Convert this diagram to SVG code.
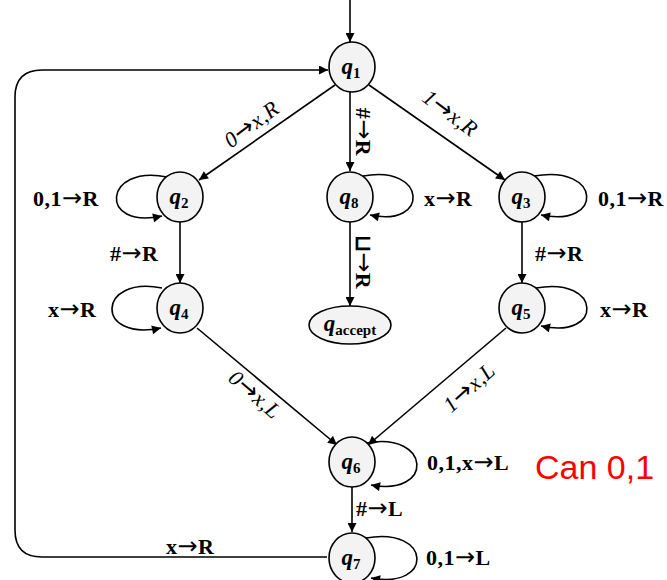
<svg xmlns="http://www.w3.org/2000/svg" width="667" height="580" viewBox="0 0 667 580">
<defs>
<marker id="ah" viewBox="0 0 10 10" refX="10" refY="5" markerWidth="10" markerHeight="9" markerUnits="userSpaceOnUse" orient="auto"><path d="M0,0 L10,5 L0,10 Z" fill="#000"/></marker>
</defs>
<style>
.st{fill:#f3f3f3;stroke:#000;stroke-width:1.6}
.nl{font-family:"Liberation Serif",serif;font-size:23px;font-weight:bold;font-style:italic;text-anchor:middle}
.sub{font-size:15px;font-style:normal}
.e{fill:none;stroke:#000;stroke-width:1.6;marker-end:url(#ah)}
.lb{font-family:"Liberation Serif",serif;font-size:22px;font-weight:bold;letter-spacing:0.5px}
.it{font-style:italic;font-weight:normal}
.ar{font-family:"DejaVu Sans",sans-serif;font-weight:normal;font-style:normal;font-size:24px}
.red{font-family:"Liberation Sans",Arial,sans-serif;font-size:34px;fill:#ff0000}
</style>
<rect width="667" height="580" fill="#fff"/>
<g id="connectors">
<path class="e" d="M350,0 V42"/>
<path class="e" d="M335,85 L199,180"/>
<path class="e" d="M350,92 V171"/>
<path class="e" d="M369,85 L505,180"/>
<path class="e" d="M180,222 V283"/>
<path class="e" d="M350,222 V306"/>
<path class="e" d="M522,222 V283"/>
<path class="e" d="M197,328 L337,445"/>
<path class="e" d="M506,328 L368,445"/>
<path class="e" d="M352,487 V532"/>
<path class="e" d="M327,557 H42 Q15,557 15,530 V97 Q15,70 42,70 H328"/>
<path class="e" d="M167,177 C103,164 98,230 162,216"/>
<path class="e" d="M162,288 C97,275 94,342 161,328"/>
<path class="e" d="M363,176 C427,164 430,228 370,215"/>
<path class="e" d="M534,176 C602,164 604,228 541,215"/>
<path class="e" d="M536,288 C602,276 604,340 541,326"/>
<path class="e" d="M366,443 C432,431 434,497 371,485"/>
<path class="e" d="M366,538 C432,526 434,590 371,578"/>
</g>
<g id="labels">
<text class="lb it" transform="translate(256,130) rotate(-37)" text-anchor="middle">0<tspan class="ar">→</tspan>x,R</text>
<text class="lb it" transform="translate(446,119) rotate(37)" text-anchor="middle">1<tspan class="ar">→</tspan>x,R</text>
<text class="lb" transform="translate(356,132) rotate(90)" text-anchor="middle">#<tspan class="ar">→</tspan>R</text>
<text class="lb" transform="translate(356,262) rotate(90)" text-anchor="middle">⊔<tspan class="ar">→</tspan>R</text>
<text class="lb" x="33" y="206">0,1<tspan class="ar">→</tspan>R</text>
<text class="lb" x="424" y="206">x<tspan class="ar">→</tspan>R</text>
<text class="lb" x="598" y="206">0,1<tspan class="ar">→</tspan>R</text>
<text class="lb" x="110" y="261">#<tspan class="ar">→</tspan>R</text>
<text class="lb" x="535" y="261">#<tspan class="ar">→</tspan>R</text>
<text class="lb" x="48" y="317">x<tspan class="ar">→</tspan>R</text>
<text class="lb" x="600" y="317">x<tspan class="ar">→</tspan>R</text>
<text class="lb it" transform="translate(250,400) rotate(41)" text-anchor="middle">0<tspan class="ar">→</tspan>x,L</text>
<text class="lb it" transform="translate(474,393) rotate(-42)" text-anchor="middle">1<tspan class="ar">→</tspan>x,L</text>
<text class="lb" x="427" y="470">0,1,x<tspan class="ar">→</tspan>L</text>
<text class="lb" x="356" y="516">#<tspan class="ar">→</tspan>L</text>
<text class="lb" x="166" y="554">x<tspan class="ar">→</tspan>R</text>
<text class="lb" x="426" y="565">0,1<tspan class="ar">→</tspan>L</text>
<text class="red" x="535" y="479">Can 0,1</text>
</g>
<g id="q1"><ellipse class="st" cx="352" cy="67" rx="23" ry="25"/><text class="nl" x="351" y="74">q<tspan class="sub" dy="4">1</tspan></text></g>
<g id="q2"><ellipse class="st" cx="180" cy="197" rx="23" ry="25"/><text class="nl" x="179" y="204">q<tspan class="sub" dy="4">2</tspan></text></g>
<g id="q8"><ellipse class="st" cx="350" cy="197" rx="23" ry="25"/><text class="nl" x="349" y="204">q<tspan class="sub" dy="4">8</tspan></text></g>
<g id="q3"><ellipse class="st" cx="522" cy="197" rx="23" ry="25"/><text class="nl" x="521" y="204">q<tspan class="sub" dy="4">3</tspan></text></g>
<g id="q4"><ellipse class="st" cx="180" cy="308" rx="23" ry="25"/><text class="nl" x="179" y="315">q<tspan class="sub" dy="4">4</tspan></text></g>
<g id="qaccept"><ellipse class="st" cx="350" cy="325" rx="41" ry="19"/><text class="nl" x="350" y="331">q<tspan class="sub" dy="4">accept</tspan></text></g>
<g id="q5"><ellipse class="st" cx="522" cy="308" rx="23" ry="25"/><text class="nl" x="521" y="315">q<tspan class="sub" dy="4">5</tspan></text></g>
<g id="q6"><ellipse class="st" cx="352" cy="462" rx="23" ry="25"/><text class="nl" x="351" y="469">q<tspan class="sub" dy="4">6</tspan></text></g>
<g id="q7"><ellipse class="st" cx="352" cy="558" rx="23" ry="25"/><text class="nl" x="351" y="565">q<tspan class="sub" dy="4">7</tspan></text></g>
</svg>
